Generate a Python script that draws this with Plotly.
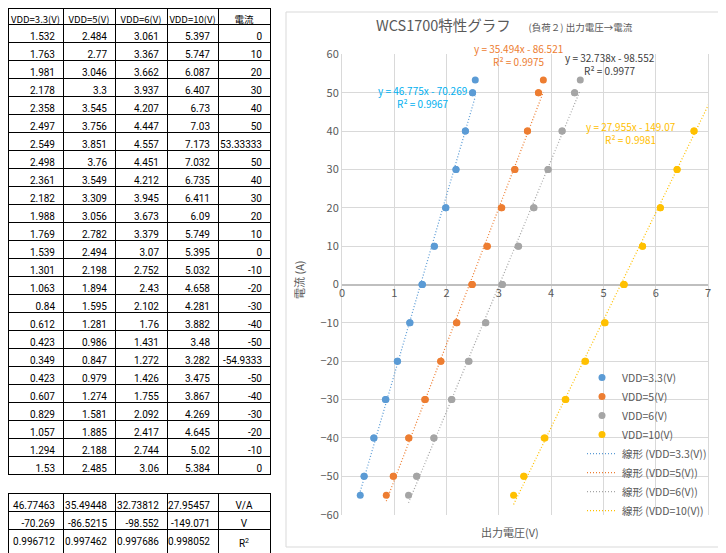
import plotly.graph_objects as go

# 測定データ（電流 A と各 VDD の出力電圧 V）
current = [0, 10, 20, 30, 40, 50, 53.33333, 50, 40, 30, 20, 10, 0,
           -10, -20, -30, -40, -50, -54.9333, -50, -40, -30, -20, -10, 0]
v33 = [1.532, 1.763, 1.981, 2.178, 2.358, 2.497, 2.549, 2.498, 2.361, 2.182, 1.988, 1.769, 1.539,
       1.301, 1.063, 0.84, 0.612, 0.423, 0.349, 0.423, 0.607, 0.829, 1.057, 1.294, 1.53]
v5 = [2.484, 2.77, 3.046, 3.3, 3.545, 3.756, 3.851, 3.76, 3.549, 3.309, 3.056, 2.782, 2.494,
      2.198, 1.894, 1.595, 1.281, 0.986, 0.847, 0.979, 1.274, 1.581, 1.885, 2.188, 2.485]
v6 = [3.061, 3.367, 3.662, 3.937, 4.207, 4.447, 4.557, 4.451, 4.212, 3.945, 3.673, 3.379, 3.07,
      2.752, 2.43, 2.102, 1.76, 1.431, 1.272, 1.426, 1.755, 2.092, 2.417, 2.744, 3.06]
v10 = [5.397, 5.747, 6.087, 6.407, 6.73, 7.03, 7.173, 7.032, 6.735, 6.411, 6.09, 5.749, 5.395,
       5.032, 4.658, 4.281, 3.882, 3.48, 3.282, 3.475, 3.867, 4.269, 4.645, 5.02, 5.384]

# 近似直線の係数
slopes = [46.77463, 35.49448, 32.73812, 27.95457]
intercepts = [-70.269, -86.5215, -98.552, -149.071]
r2 = [0.996712, 0.997462, 0.997686, 0.998052]
units = ["V/A", "V", "R<sup>2</sup>"]

series_names = ["VDD=3.3(V)", "VDD=5(V)", "VDD=6(V)", "VDD=10(V)"]
eq_labels = ["y = 46.775x - 70.269<br>R² = 0.9967",
             "y = 35.494x - 86.521<br>R² = 0.9975",
             "y = 32.738x - 98.552<br>R² = 0.9977",
             "y = 27.955x - 149.07<br>R² = 0.9981"]

colors = ["#5B9BD5", "#ED7D31", "#A5A5A5", "#FFC000"]
label_colors = ["#00B0F0", "#ED7D31", "#404040", "#FFC000"]
label_pos = [(1.53, 48.8), (3.37, 59.9), (5.13, 57.5), (5.53, 39.6)]

volts = [v33, v5, v6, v10]

# ページの余白 (8px) を差し引いた図のサイズ
OFF = 8
W, H = 726 - OFF, 553 - OFF
px = lambda x: (x - OFF) / W
py = lambda y: 1 - (y - OFF) / H

XMAX = 7
fmt = lambda v: "{:.7g}".format(v)
tfont = dict(family="Roboto, Noto Sans CJK JP", size=10, color="black")
widths = [55, 52, 52, 51, 52]

fig = go.Figure()

# 左側の表
fig.add_trace(go.Table(
    domain=dict(x=[0, px(270)], y=[py(540), 1]),
    columnwidth=widths,
    header=dict(values=series_names + ["電流"], height=16,
                align="center", fill_color="white",
                line=dict(color="black", width=1),
                font=dict(family="Noto Sans CJK JP", size=9.5, color="black")),
    cells=dict(values=[[fmt(v) for v in col] for col in volts] + [[fmt(c) for c in current]],
               height=18, align="right", fill_color="white",
               line=dict(color="black", width=1), font=tfont),
))

fig.add_trace(go.Table(
    domain=dict(x=[0, px(270)], y=[0, py(493)]),
    columnwidth=widths,
    header=dict(values=[fmt(s) for s in slopes] + [units[0]], height=18,
                align=["right"] * 4 + ["center"], fill_color="white",
                line=dict(color="black", width=1), font=tfont),
    cells=dict(values=[[fmt(intercepts[i]), fmt(r2[i])] for i in range(4)] + [units[1:]],
               height=18, align=["right"] * 4 + ["center"], fill_color="white",
               line=dict(color="black", width=1), font=tfont),
))

# 散布図（軸の範囲外の点は Excel と同様に表示しない）
for i in range(4):
    pts = [(x, y) for x, y in zip(volts[i], current) if x <= XMAX]
    fig.add_trace(go.Scatter(
        x=[p[0] for p in pts], y=[p[1] for p in pts], mode="markers", name=series_names[i],
        marker=dict(color=colors[i], size=7),
        xaxis="x", yaxis="y",
    ))

# 線形近似
for i in range(4):
    xs = [min(volts[i]), max(volts[i])]
    fig.add_trace(go.Scatter(
        x=xs, y=[slopes[i] * x + intercepts[i] for x in xs], mode="lines",
        name="線形 (" + series_names[i] + ")",
        line=dict(color=colors[i], width=1.25, dash="1px,2px"),
        xaxis="x", yaxis="y",
    ))

for i in range(4):
    fig.add_annotation(x=label_pos[i][0], y=label_pos[i][1], xref="x", yref="y",
                       text=eq_labels[i], showarrow=False, align="center",
                       xanchor="center", yanchor="middle",
                       font=dict(size=10, color=label_colors[i]))

gray = "#595959"
fig.add_annotation(x=px(504), y=py(25), xref="paper", yref="paper", showarrow=False,
                   xanchor="center", yanchor="middle",
                   text='WCS1700特性グラフ　 <span style="font-size:9.5px">(負荷２) 出力電圧→電流</span>',
                   font=dict(size=14.5, color=gray))
fig.add_annotation(x=px(510), y=py(532), xref="paper", yref="paper", showarrow=False,
                   xanchor="center", yanchor="middle",
                   text="出力電圧(V)", font=dict(size=11, color=gray))
fig.add_annotation(x=px(299), y=py(280), xref="paper", yref="paper", showarrow=False,
                   xanchor="center", yanchor="middle",
                   text="電流 (A)", textangle=-90, font=dict(size=11, color=gray))

# グラフ枠
fig.add_shape(type="rect", xref="paper", yref="paper",
              x0=px(286), x1=px(722), y0=py(547), y1=py(4 + OFF),
              line=dict(color="#D9D9D9", width=1), fillcolor="rgba(0,0,0,0)", layer="below")

ydom = [py(514.7), py(54.3)]
fig.update_layout(
    width=W, height=H,
    margin=dict(l=0, r=0, t=0, b=0, autoexpand=False),
    paper_bgcolor="white", plot_bgcolor="white",
    font=dict(family="Noto Sans CJK JP", color=gray),
    xaxis=dict(domain=[px(342), px(708)], range=[0, XMAX], dtick=1,
               anchor="free", position=(ydom[0] + ydom[1]) / 2, automargin=False,
               showgrid=True, gridcolor="#D9D9D9", zeroline=False,
               showline=False, tickfont=dict(size=11, color=gray)),
    yaxis=dict(domain=ydom, range=[-60, 60], dtick=10, automargin=False,
               showgrid=True, gridcolor="#D9D9D9",
               zeroline=True, zerolinecolor="#BFBFBF", zerolinewidth=1.5,
               showline=True, linecolor="#D9D9D9", mirror=True,
               tickfont=dict(size=11, color=gray)),
    legend=dict(x=px(582), y=py(363), xanchor="left", yanchor="top",
                bgcolor="rgba(0,0,0,0)", font=dict(size=10.5, color=gray)),
)

fig.write_html("out.html")
